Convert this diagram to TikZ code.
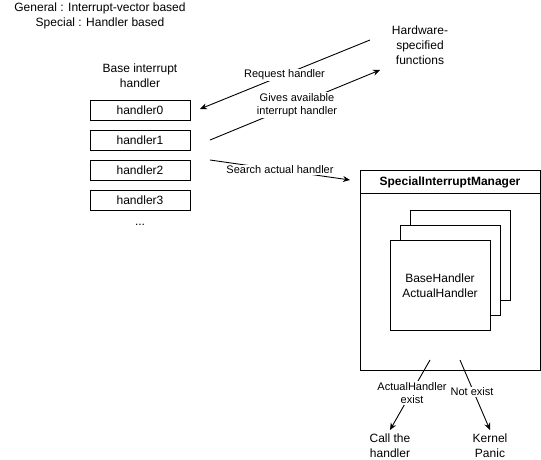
\documentclass[tikz,border=0pt]{standalone}
\usepackage{fontspec}
\setmainfont{Liberation Sans}
\usetikzlibrary{arrows.meta}
\begin{document}
\begin{tikzpicture}[x=1pt,y=-1pt,
  txt/.style={font=\fontsize{12}{14}\selectfont, align=center, inner sep=0pt},
  lbl/.style={font=\fontsize{11}{13}\selectfont, align=center, fill=white, inner sep=1pt},
  hbox/.style={draw, line width=0.9pt, minimum width=100pt, minimum height=20pt, inner sep=0pt, font=\fontsize{12}{14}\selectfont},
  sq/.style={draw, line width=0.9pt, fill=white},
  conn/.style={line width=0.9pt, -{Stealth[length=7pt,width=6pt]}}]
\useasboundingbox (0,0) rectangle (541,460);
% top-left notes
\node[txt] (gen) at (100,8) {General : Interrupt-vector based};
\node[txt] (spe) at (100,23) {Special : Handler based};
% base handler list
\node[txt] (base) at (140,75.5) {Base interrupt\\[1pt]handler};
\node[hbox] (h0) at (140,110) {handler0};
\node[hbox] (h1) at (140,140) {handler1};
\node[hbox] (h2) at (140,170) {handler2};
\node[hbox] (h3) at (140,200) {handler3};
\node[txt] (dots) at (140,225) {...};
% hardware
\node[txt] (hw) at (420,45.5) {Hardware-\\[1pt]specified\\[1pt]functions};
% manager
\draw[line width=0.9pt] (360,170) rectangle (540,370);
\draw[line width=0.9pt] (360,193) -- (540,193);
\node[txt, font=\fontsize{12}{14}\selectfont\bfseries] (sim) at (450,182) {SpecialInterruptManager};
\draw[sq] (410,210) rectangle (510,300);
\draw[sq] (400,225) rectangle (500,315);
\draw[sq] (390,240) rectangle (490,330);
\node[txt] (bh) at (440,285.5) {BaseHandler\\[1pt]ActualHandler};
% outcomes
\node[txt] (call) at (390,445.5) {Call the\\[1pt]handler};
\node[txt] (kp) at (490,445.5) {Kernel\\[1pt]Panic};
% connector endpoints
\coordinate (rqS) at (370,40);
\coordinate (rqE) at (200,109);
\coordinate (gvS) at (210,140);
\coordinate (gvE) at (380,70);
\coordinate (saS) at (210,160);
\coordinate (saE) at (350,180);
\coordinate (aeS) at (430,360);
\coordinate (aeE) at (390,430);
\coordinate (neS) at (460,360);
\coordinate (neE) at (490,430);
% connectors
\draw[conn] (rqS) -- (rqE);
\draw[conn] (gvS) -- (gvE);
\draw[conn] (saS) -- (saE);
\draw[conn] (aeS) -- (aeE);
\draw[conn] (neS) -- (neE);
% labels
\node[lbl] (rql) at (284.5,75) {Request handler};
\node[lbl] (gvl) at (297,105) {Gives available\\[0pt]interrupt handler};
\node[lbl] (sal) at (280,170) {Search actual handler};
\node[lbl] (ael) at (412,393) {ActualHandler\\[0pt]exist};
\node[lbl] (nel) at (472,392) {Not exist};
\end{tikzpicture}
\end{document}
